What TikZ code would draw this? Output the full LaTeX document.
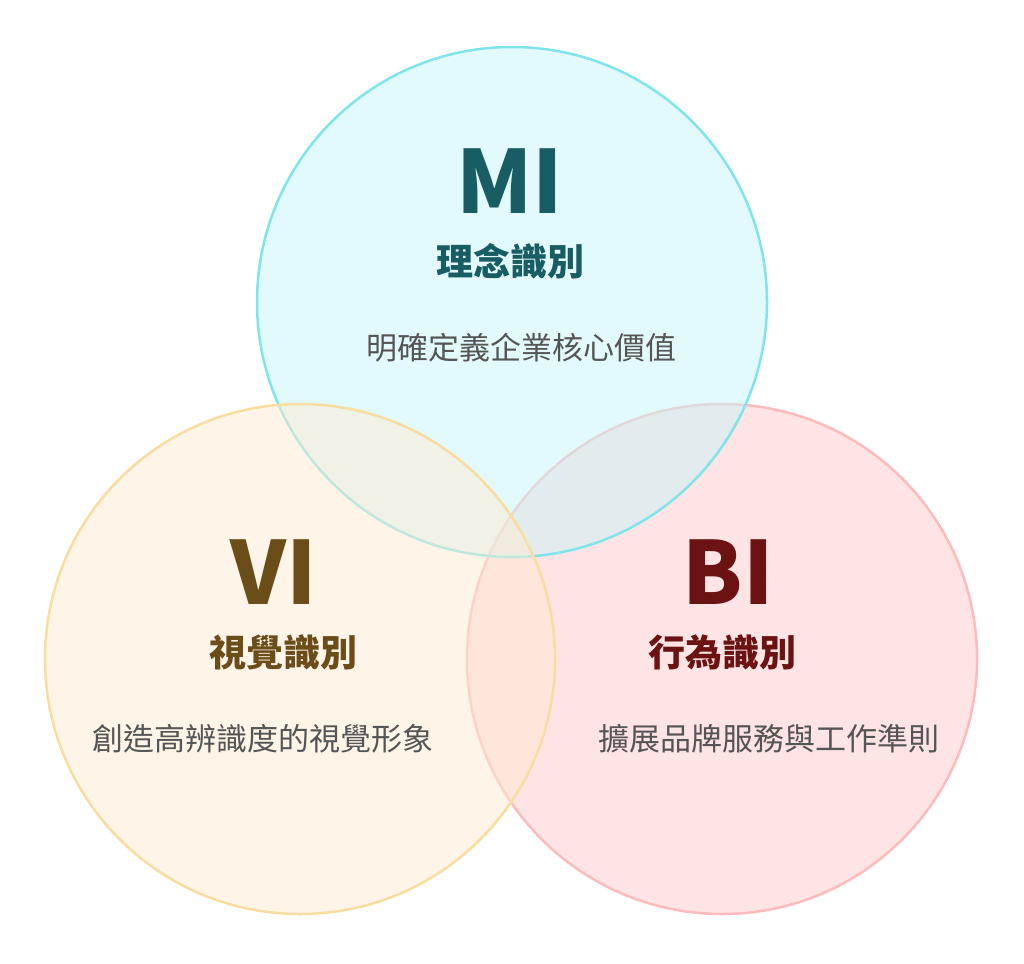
\documentclass[tikz,border=0pt]{standalone}
\usepackage{fontspec}
\setmainfont{Noto Sans CJK TC}
\usetikzlibrary{positioning}
\definecolor{mifill}{HTML}{C7F5F9}
\definecolor{mistroke}{HTML}{80E5EA}
\definecolor{mitext}{HTML}{185C64}
\definecolor{vifill}{HTML}{FFE9D1}
\definecolor{vistroke}{HTML}{F8DDA0}
\definecolor{vitext}{HTML}{6B4D1A}
\definecolor{bifill}{HTML}{FFC9CB}
\definecolor{bistroke}{HTML}{FCBCBC}
\definecolor{bitext}{HTML}{6B1212}
\definecolor{desctext}{HTML}{555555}
\tikzset{
    ring/.style={
        line width=2.5pt,
        fill opacity=0.5
    },
    titletext/.style={
        font=\fontsize{87}{87}\selectfont\bfseries,
        inner sep=0pt
    },
    headtext/.style={
        font=\fontsize{37}{37}\selectfont\bfseries,
        inner sep=0pt
    },
    desctext/.style={
        font=\fontsize{31}{31}\selectfont,
        text=desctext,
        inner sep=0pt
    }
}

\begin{document}
\begin{tikzpicture}[x=1pt,y=-1pt]
\useasboundingbox (0,0) rectangle (1024,963);
% 三個圓
\draw[ring, draw=bistroke, fill=bifill] (722,659) circle (255pt);
\draw[ring, draw=mistroke, fill=mifill] (512,302) circle (255pt);
\draw[ring, draw=vistroke, fill=vifill] (300,659) circle (255pt);

% MI
\node[titletext, text=mitext] (MI) at (510,181) {MI};
\node[headtext, text=mitext, below=30pt of MI] (MIhead) {理念識別};
\node[desctext, below=53pt of MIhead, xshift=11pt] (MIdesc) {明確定義企業核心價值};

% VI
\node[titletext, text=vitext] (VI) at (274,572) {VI};
\node[headtext, text=vitext, below=30pt of VI, xshift=9pt] (VIhead) {視覺識別};
\node[desctext, below=54pt of VIhead, xshift=-20pt] (VIdesc) {創造高辨識度的視覺形象};

% BI
\node[titletext, text=bitext] (BI) at (728,572) {BI};
\node[headtext, text=bitext, below=30pt of BI, xshift=-6pt] (BIhead) {行為識別};
\node[desctext, below=54pt of BIhead, xshift=47pt] (BIdesc) {擴展品牌服務與工作準則};
\end{tikzpicture}
\end{document}
